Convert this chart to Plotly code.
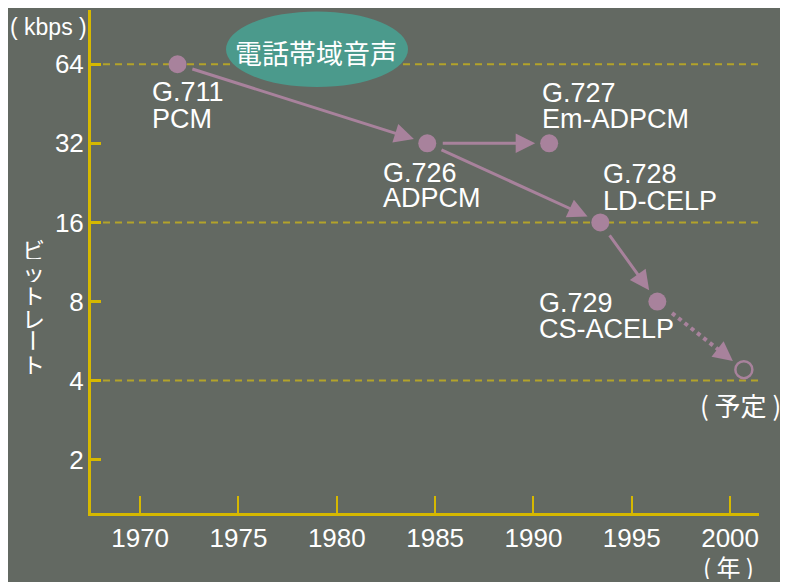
import math
import plotly.graph_objects as go

# ---------------- data ----------------
standards = ["G.711", "G.726", "G.727", "G.728", "G.729"]
methods = ["PCM", "ADPCM", "Em-ADPCM", "LD-CELP", "CS-ACELP"]
years = [1971.9, 1984.6, 1990.8, 1993.4, 1996.3]
bitrates = [64, 32, 32, 16, 8]
planned_years = [2000.7]
planned_rates = [4.4]
planned_label = "( 予定 )"
links = [(0, 1), (1, 2), (1, 3), (3, 4)]  # arrows: from index -> to index
y_tick_vals = [2, 4, 8, 16, 32, 64]
y_tick_text = ["2", "4", "8", "16", "32", "64"]
x_tick_vals = [1970, 1975, 1980, 1985, 1990, 1995, 2000]
x_tick_text = ["1970", "1975", "1980", "1985", "1990", "1995", "2000"]
grid_levels = [4, 16, 64]
band_label = "電話帯域音声"
y_unit = "( kbps )"
x_unit = "( 年 )"
y_title = "ビットレート"

# ---------------- style ----------------
OFF = 8  # page body margin in the browser
W, H = 788 - OFF, 582 - OFF
ML, MR, MT, MB = 91 - OFF, 29, 10 - OFF, 69
PW, PH = W - ML - MR, H - MT - MB
BG = "#636962"
AXIS = "#d6b800"
GRID = "#b3a32a"
MAUVE = "#a8829c"
TEAL = "#4b9a8c"
WHITE = "#ffffff"
LAT = "Liberation Sans, Arial, sans-serif"
JP = "Noto Sans CJK JP, sans-serif"

# screen pixel -> paper coordinates
def px(xp):
    return (xp - OFF - ML) / PW

def py(yp):
    return (H - MB - (yp - OFF)) / PH

fig = go.Figure()

# dotted (planned) connection, computed from the data points
x0, y0 = years[-1], math.log10(bitrates[-1])
x1, y1 = planned_years[0], math.log10(planned_rates[0])
fr = (0.17, 0.74)
fig.add_trace(go.Scatter(
    x=[x0 + f * (x1 - x0) for f in fr],
    y=[10 ** (y0 + f * (y1 - y0)) for f in fr],
    mode="lines", line=dict(color=MAUVE, width=4, dash="4px,4px"),
    hoverinfo="skip", showlegend=False))

fig.add_trace(go.Scatter(
    x=years, y=bitrates, mode="markers",
    marker=dict(size=18, color=MAUVE, line=dict(width=0)),
    showlegend=False))
fig.add_trace(go.Scatter(
    x=planned_years, y=planned_rates, mode="markers",
    marker=dict(size=17, symbol="circle-open", color=MAUVE, line=dict(width=2.5, color=MAUVE)),
    showlegend=False))

# grid lines (dashed) at selected levels
for g in grid_levels:
    fig.add_shape(type="line", xref="paper", x0=0, x1=1.0, yref="y",
                  y0=g, y1=g,
                  line=dict(color=GRID, width=2, dash="7px,5px"), layer="below")

# ellipse
fig.add_shape(type="circle", xref="paper", yref="paper",
              x0=px(226), x1=px(408), y0=py(87), y1=py(11.5),
              fillcolor=TEAL, line=dict(width=0), layer="above")
fig.add_annotation(xref="paper", yref="paper", x=px(316), y=py(53),
                   text=band_label, showarrow=False,
                   font=dict(family=JP, size=27, color=WHITE),
                   xanchor="center", yanchor="middle")

# arrows
for a, b in links:
    fig.add_annotation(x=years[b], y=math.log10(bitrates[b]),
                       ax=years[a], ay=math.log10(bitrates[a]),
                       xref="x", yref="y", axref="x", ayref="y",
                       text="", showarrow=True, arrowhead=2, arrowsize=1.3,
                       arrowwidth=3, arrowcolor=MAUVE,
                       standoff=14, startstandoff=14)
fig.add_annotation(x=x1, y=y1, ax=x0, ay=y0,
                   xref="x", yref="y", axref="x", ayref="y",
                   text="", showarrow=True, arrowhead=2, arrowsize=1.3,
                   arrowwidth=3, arrowcolor=MAUVE,
                   standoff=14, startstandoff=80)

# point labels (two lines each); offsets in pixels
label_offsets = {
    "G.711": (-28, -28, -55),
    "G.726": (-46, -29.5, -54.5),
    "G.727": (-9, 50, 24),
    "G.728": (1, 48.5, 21.5),
    "G.729": (-120, -1.5, -27.5),
}
for s, m, xv, yv in zip(standards, methods, years, bitrates):
    dx, dy1, dy2 = label_offsets[s]
    for txt, dy in ((s, dy1), (m, dy2)):
        fig.add_annotation(x=xv, y=math.log10(yv), text=txt, showarrow=False,
                           xanchor="left", yanchor="middle", xshift=dx, yshift=dy,
                           font=dict(family=LAT, size=27, color=WHITE))

fig.add_annotation(x=planned_years[0], y=math.log10(planned_rates[0]),
                   text=planned_label, showarrow=False, xanchor="center",
                   yanchor="middle", yshift=-35, xshift=-3, borderpad=0,
                   font=dict(family=JP, size=26, color=WHITE))

# units
fig.add_annotation(xref="paper", yref="paper", x=px(8), y=py(27), text=y_unit,
                   showarrow=False, xanchor="left", yanchor="middle",
                   font=dict(family=LAT, size=23, color=WHITE))
fig.add_annotation(xref="paper", yref="paper", x=px(728), y=py(566), text=x_unit,
                   showarrow=False, xanchor="center", yanchor="middle",
                   height=26, borderpad=0,
                   font=dict(family=JP, size=24, color=WHITE))

# vertical y-axis title
for i, ch in enumerate(y_title):
    fig.add_annotation(xref="paper", yref="paper", x=px(33), y=py(248 + 23 * i),
                       text=ch, showarrow=False, xanchor="center", yanchor="middle",
                       textangle=90 if ch == "ー" else 0, height=21, borderpad=0,
                       font=dict(family=JP, size=23, color=WHITE))

fig.update_layout(
    width=W, height=H,
    margin=dict(l=ML, r=MR, t=MT, b=MB, pad=0, autoexpand=False),
    paper_bgcolor=BG, plot_bgcolor=BG,
    showlegend=False,
    xaxis=dict(range=[1967.5, 2001.47], showgrid=False, zeroline=False,
               automargin=False,
               showline=True, linecolor=AXIS, linewidth=3,
               ticks="inside", ticklen=17, tickwidth=2, tickcolor=AXIS,
               tickvals=x_tick_vals, ticktext=x_tick_text,
               ticklabelstandoff=0,
               tickfont=dict(family=LAT, size=26, color=WHITE)),
    yaxis=dict(type="log",
               range=[math.log10(2 ** 0.326), math.log10(2 ** 6.686)],
               showgrid=False, zeroline=False, automargin=False,
               showline=True, linecolor=AXIS, linewidth=3,
               ticks="inside", ticklen=10, tickwidth=3, tickcolor=AXIS,
               tickvals=y_tick_vals, ticktext=y_tick_text,
               ticklabelstandoff=-1,
               tickfont=dict(family=LAT, size=26, color=WHITE)),
)

fig.write_html("out.html")
